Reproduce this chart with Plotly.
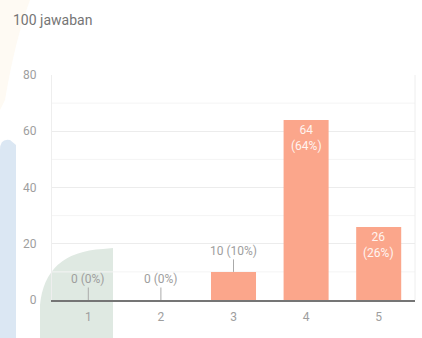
import plotly.graph_objects as go

categories = ["1", "2", "3", "4", "5"]
counts = [0, 0, 10, 64, 26]
total = 100
y_ticks = [0, 20, 40, 60, 80]

W, H = 422, 338
ML, MR, MT, MB = 52, 7, 75, 38
PW, PH = W - ML - MR, H - MT - MB

def px(x):
    return (x - ML) / PW

def py(y):
    return (H - MB - y) / PH

bar_color = "#fba68b"
grey = "#9e9e9e"

fig = go.Figure()
fig.add_trace(go.Bar(
    x=categories, y=counts, marker=dict(color=bar_color, line=dict(width=0)),
    width=0.62, hoverinfo="skip"))

annotations = []
for i, (c, v) in enumerate(zip(categories, counts)):
    pct = round(v * 100 / total)
    if v < 20:
        annotations.append(dict(
            x=i, y=v, xref="x", yref="y", text=f"{v} ({pct}%)",
            showarrow=True, arrowhead=0, arrowwidth=1, arrowcolor="#aaaaaa",
            ax=0, ay=-21, standoff=0, startstandoff=0,
            font=dict(color=grey, size=12, family="Roboto")))
    else:
        annotations.append(dict(
            x=i, y=v, xref="x", yref="y", text=f"{v}<br>({pct}%)",
            showarrow=False, yanchor="top", yshift=-1,
            font=dict(color="#fff4f0", size=12, family="Roboto")))

annotations.append(dict(
    x=px(11), y=py(20), xref="paper", yref="paper", xanchor="left", yanchor="middle",
    text="100 jawaban", showarrow=False,
    font=dict(color="#757575", size=14, family="Roboto")))

shapes = [
    # watermark: light blue band on the left
    dict(type="path", xref="paper", yref="paper", layer="below",
         path=f"M {px(0)},{py(338)} L {px(0)},{py(150)} Q {px(0)},{py(138)} {px(10)},{py(140)} "
              f"L {px(16)},{py(145)} L {px(16)},{py(338)} Z",
         fillcolor="#dbe7f3", line=dict(width=0)),
    # faint orange blur top-left
    dict(type="path", xref="paper", yref="paper", layer="below",
         path=f"M {px(0)},{py(0)} L {px(30)},{py(0)} Q {px(15)},{py(40)} {px(5)},{py(100)} L {px(0)},{py(110)} Z",
         fillcolor="#fefaf3", line=dict(width=0)),
    # green quarter shape
    dict(type="path", xref="paper", yref="paper", layer="below",
         path=f"M {px(40)},{py(338)} L {px(40)},{py(305)} Q {px(45)},{py(252)} {px(103)},{py(249)} "
              f"L {px(113)},{py(248)} L {px(113)},{py(338)} Z",
         fillcolor="#dfe9e2", line=dict(width=0)),
]
for v in [10, 30, 50, 70]:
    shapes.append(dict(type="line", xref="paper", yref="y", x0=0, x1=1, y0=v, y1=v,
                       layer="below", line=dict(color="#f4f4f4", width=1)))
shapes.append(dict(type="line", xref="paper", yref="paper", x0=1, x1=1, y0=0, y1=1,
                   layer="below", line=dict(color="#eeeeee", width=1)))

fig.update_layout(
    width=W, height=H,
    margin=dict(l=ML, r=MR, t=MT, b=MB, pad=0),
    paper_bgcolor="white", plot_bgcolor="rgba(0,0,0,0)",
    showlegend=False,
    annotations=annotations, shapes=shapes,
    font=dict(family="Roboto", color=grey, size=12),
    xaxis=dict(type="category", range=[-0.5, 4.5], autorange=False,
               showgrid=False, showline=True, linecolor="#757575", linewidth=1.5,
               tickfont=dict(color=grey, size=12), ticks="outside", ticklen=5,
               tickcolor="rgba(0,0,0,0)", fixedrange=True),
    yaxis=dict(range=[0, 80], tickvals=y_ticks, showgrid=True, gridcolor="#ececec",
               gridwidth=1, zeroline=False, showline=True, linecolor="#eeeeee",
               tickfont=dict(color=grey, size=12), ticks="outside", ticklen=12,
               tickcolor="rgba(0,0,0,0)", fixedrange=True),
)

fig.write_html("out.html")
